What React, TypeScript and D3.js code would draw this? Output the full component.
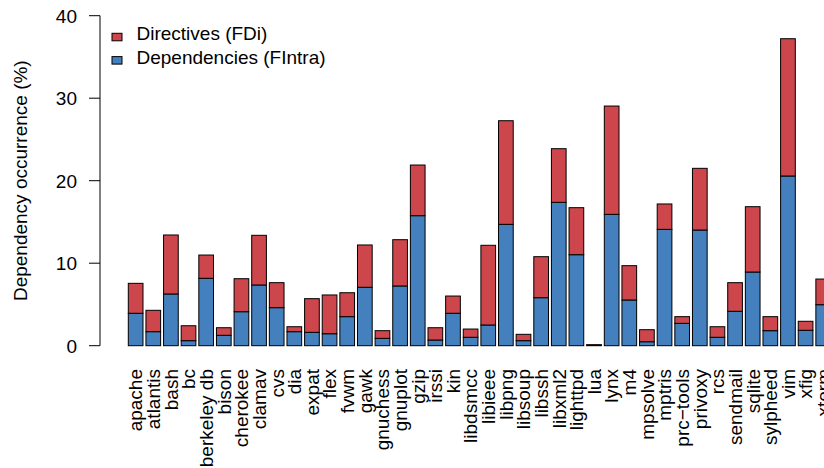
import React from "react";
import * as d3 from "d3";

const categories = ["apache","atlantis","bash","bc","berkeley db","bison","cherokee","clamav","cvs","dia","expat","flex","fvwm","gawk","gnuchess","gnuplot","gzip","irssi","kin","libdsmcc","libieee","libpng","libsoup","libssh","libxml2","lighttpd","lua","lynx","m4","mpsolve","mptris","prc\u2212tools","privoxy","rcs","sendmail","sqlite","sylpheed","vim","xfig","xterm"];

const dependencies = [3.93,1.70,6.27,0.61,8.17,1.26,4.12,7.36,4.61,1.70,1.62,1.45,3.52,7.08,0.89,7.24,15.76,0.69,3.93,1.02,2.51,14.71,0.61,5.82,17.38,11.03,0.06,15.92,5.54,0.48,14.10,2.71,14.02,1.02,4.17,8.93,1.82,20.57,1.87,4.97];

const directives = [3.63,2.59,7.15,1.81,2.82,0.92,4.00,6.02,3.03,0.60,4.08,4.70,2.90,5.13,0.93,5.61,6.14,1.49,2.09,1.00,9.66,12.56,0.77,4.97,6.50,5.70,0.06,13.13,4.16,1.46,3.08,0.81,7.48,1.28,3.47,7.92,1.70,16.64,1.09,3.11];

const yTicks = [0, 10, 20, 30, 40];
const legendLabels = ["Directives (FDi)", "Dependencies (FIntra)"];

const RED = "#CD464B";
const BLUE = "#4480BE";
const FONT = "'Liberation Sans', Arial, Helvetica, sans-serif";
const FS = 19;

export default function App() {
  const W = 824, H = 468;
  const y = d3.scaleLinear().domain([0, 40]).range([345.7, 15.7]);
  const x = d3.scaleBand<string>()
    .domain(categories)
    .range([126.83, 126.83 + 40 * 17.63])
    .paddingInner(1 / 6)
    .paddingOuter(1 / 12);
  const bw = x.bandwidth();
  const axisX = 100;

  return (
    <svg width={W} height={H} style={{ position: "absolute", left: 0, top: 0, background: "#fff" }} fontFamily={FONT}>
      {/* y axis */}
      <line x1={axisX} x2={axisX} y1={y(0)} y2={y(40)} stroke="#000" strokeWidth={1} />
      {yTicks.map((t) => (
        <g key={t}>
          <line x1={axisX - 11} x2={axisX} y1={y(t)} y2={y(t)} stroke="#000" strokeWidth={1} />
          <text x={77} y={y(t)} dy="0.36em" textAnchor="end" fontSize={FS} fill="#000">{t}</text>
        </g>
      ))}
      <text transform={`translate(26.5,${(y(0) + y(40)) / 2}) rotate(-90)`} textAnchor="middle" fontSize={FS} fill="#000">
        Dependency occurrence (%)
      </text>

      {/* bars */}
      {categories.map((c, i) => {
        const x0 = x(c) as number;
        const b = dependencies[i];
        const r = directives[i];
        return (
          <g key={c}>
            <rect x={x0} y={y(b)} width={bw} height={y(0) - y(b)} fill={BLUE} stroke="#000" strokeWidth={1} />
            <rect x={x0} y={y(b + r)} width={bw} height={y(b) - y(b + r)} fill={RED} stroke="#000" strokeWidth={1} />
          </g>
        );
      })}

      {/* x labels */}
      {categories.map((c) => {
        const cx = (x(c) as number) + bw / 2;
        return (
          <text key={c} transform={`translate(${cx},369) rotate(-90)`} textAnchor="end" dy="0.36em" fontSize={FS} fill="#000">
            {c}
          </text>
        );
      })}

      {/* legend */}
      {legendLabels.map((l, i) => (
        <g key={l}>
          <rect x={112} y={33.3 + i * 23.3} width={10} height={7.5} fill={i === 0 ? RED : BLUE} stroke="#000" strokeWidth={1} />
          <text x={136.5} y={40.3 + i * 23.3} fontSize={FS} fill="#000">{l}</text>
        </g>
      ))}
    </svg>
  );
}
